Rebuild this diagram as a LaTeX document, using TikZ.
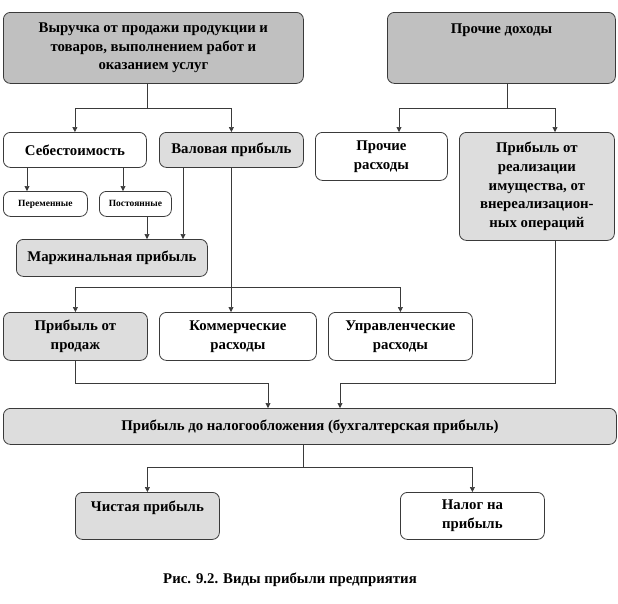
\documentclass[tikz,border=0pt]{standalone}
\usepackage{fontspec}
\setmainfont{Liberation Serif}
\usetikzlibrary{arrows.meta,calc}
\definecolor{darkfill}{HTML}{C0C0C0}
\definecolor{lightfill}{HTML}{DDDDDD}
\definecolor{lncol}{HTML}{3A3A3A}
\tikzset{
  box/.style={draw=lncol, line width=0.8pt, rounded corners=7pt, anchor=north west,
    inner sep=0pt, align=center, font=\bfseries\fontsize{14.8}{18.8}\selectfont},
  dbox/.style={box, fill=darkfill},
  lbox/.style={box, fill=lightfill},
  wbox/.style={box, fill=white},
  sbox/.style={font=\bfseries\fontsize{9.5}{10}\selectfont},
  ln/.style={draw=lncol, line width=0.6pt},
  arr/.style={ln, -{Triangle[length=5pt,width=5pt]}},
}
\begin{document}
\begin{tikzpicture}[x=1pt,y=-1pt]
\useasboundingbox (0,0) rectangle (618,603);
% boxes
\node[dbox, minimum width=300pt, minimum height=71pt] (A) at (3,12)
  {Выручка  от продажи продукции и\\товаров, выполнением работ и\\оказанием  услуг};
\node[dbox, minimum width=228pt, minimum height=71pt] (B) at (387,12)
  {Прочие доходы\\\mbox{}\\\mbox{}};
\node[wbox, minimum width=143pt, minimum height=35pt] (C) at (3,132) {Себестоимость};
\node[lbox, minimum width=144pt, minimum height=35pt] (D) at (159,132) {Валовая прибыль};
\node[wbox, sbox, minimum width=84pt, minimum height=25pt] (E) at (3,191) {Переменные};
\node[wbox, sbox, minimum width=72pt, minimum height=25pt] (F) at (99,191) {Постоянные};
\node[lbox, minimum width=191pt, minimum height=37pt] (G) at (16,239) {Маржинальная прибыль};
\node[wbox, minimum width=132pt, minimum height=48pt] (H) at (315,132) {Прочие\\расходы};
\node[lbox, minimum width=155pt, minimum height=108pt] (I) at (459,132)
  {Прибыль от\\реализации\\имущества,  от\\внереализацион-\\ных операций};
\node[lbox, minimum width=144pt, minimum height=48pt] (J) at (3,312) {Прибыль от\\продаж};
\node[wbox, minimum width=157pt, minimum height=48pt] (K) at (159,312) {Коммерческие\\расходы};
\node[wbox, minimum width=144pt, minimum height=48pt] (L) at (328,312) {Управленческие\\расходы};
\node[lbox, minimum width=613pt, minimum height=36pt] (M) at (3,408)
  {Прибыль до налогообложения (бухгалтерская  прибыль)};
\node[lbox, minimum width=144pt, minimum height=47pt] (N) at (75,492) {Чистая прибыль\\\mbox{}};
\node[wbox, minimum width=144pt, minimum height=47pt] (O) at (400,492) {Налог на\\прибыль};
\node[font=\bfseries\fontsize{14.8}{16}\selectfont] (cap) at (290,580) {Рис. 9.2. Виды прибыли предприятия};
% junction coordinates
\coordinate (jA) at (147,108);
\coordinate (c1) at (27,0);
\coordinate (c2) at (123,0);
\coordinate (f1) at (147,0);
\coordinate (d1) at (183,0);
\coordinate (d2) at (231,0);
\coordinate (jB) at (231,287);
\coordinate (jC) at (268,383);
\coordinate (i1) at (555,383);
\coordinate (jD) at (340,383);
\coordinate (jE) at (507,108);
\coordinate (h1) at (399,108);
\coordinate (i2) at (555,108);
\coordinate (jF) at (303,467);
% connectors
\draw[ln] (jA |- A.south) -- (jA);
\draw[arr] (jA) -| (C.north);
\draw[arr] (jA) -| (D.north);
\draw[arr] (c1 |- C.south) -- (c1 |- E.north);
\draw[arr] (c2 |- C.south) -- (c2 |- F.north);
\draw[arr] (f1 |- F.south) -- (f1 |- G.north);
\draw[arr] (d1 |- D.south) -- (d1 |- G.north);
\draw[arr] (d2 |- D.south) -- (d2 |- K.north);
\draw[arr] (jB) -| (J.north);
\draw[arr] (jB) -| (L.north);
\draw[ln] (jE |- B.south) -- (jE);
\draw[arr] (jE) -- (h1) -- (h1 |- H.north);
\draw[arr] (jE) -- (i2) -- (i2 |- I.north);
\draw[arr] (J.south) |- (jC) -- (jC |- M.north);
\draw[arr] (i1 |- I.south) -- (i1) -- (jD) -- (jD |- M.north);
\draw[ln] (jF |- M.south) -- (jF);
\draw[arr] (jF) -| (N.north);
\draw[arr] (jF) -| (O.north);
\end{tikzpicture}
\end{document}
